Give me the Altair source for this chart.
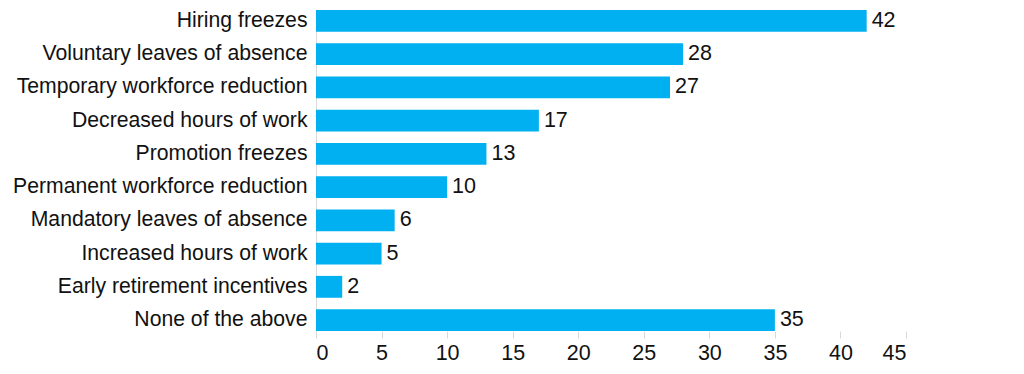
import altair as alt
import pandas as pd

categories = [
    "Hiring freezes",
    "Voluntary leaves of absence",
    "Temporary workforce reduction",
    "Decreased hours of work",
    "Promotion freezes",
    "Permanent workforce reduction",
    "Mandatory leaves of absence",
    "Increased hours of work",
    "Early retirement incentives",
    "None of the above",
]
values = [42, 28, 27, 17, 13, 10, 6, 5, 2, 35]
x_ticks = [0, 5, 10, 15, 20, 25, 30, 35, 40, 45]

df = pd.DataFrame({"category": categories, "value": values})

FONT = "Liberation Sans"
BAR = "#00B0F0"
TXT = "#111111"
FS = 21.5

y_enc = alt.Y(
    "category:N",
    sort=categories,
    scale=alt.Scale(range=[2, 323], paddingInner=0.342, paddingOuter=0),
    axis=alt.Axis(
        title=None,
        ticks=False,
        domain=True,
        domainColor="#d9d9d9",
        domainWidth=1,
        labelFontSize=21.2,
        labelFont=FONT,
        labelColor=TXT,
        labelPadding=9,
        labelLimit=400,
    ),
)

x_enc = alt.X(
    "value:Q",
    scale=alt.Scale(domain=[0, 45], nice=False),
    axis=alt.Axis(
        title=None,
        values=x_ticks,
        grid=False,
        domain=False,
        ticks=True,
        tickSize=7,
        tickColor="#d9d9d9",
        labelFontSize=FS,
        labelFont=FONT,
        labelColor=TXT,
        labelPadding=4,
    ),
)

bars = alt.Chart(df).mark_bar(color=BAR).encode(x=x_enc, y=y_enc)

labels = alt.Chart(df).mark_text(
    align="left", baseline="middle", dx=5, fontSize=FS, font=FONT, color=TXT
).encode(x="value:Q", y=alt.Y("category:N", sort=categories), text="value:Q")

chart = (
    alt.layer(bars, labels)
    .properties(
        width=590,
        height=323,
        autosize=alt.AutoSizeParams(type="none"),
        padding={"left": 308, "top": 0, "right": 110, "bottom": 35},
    )
    .configure_view(stroke=None)
)

chart.save("out.html", embed_options={"renderer": "svg", "actions": False})
